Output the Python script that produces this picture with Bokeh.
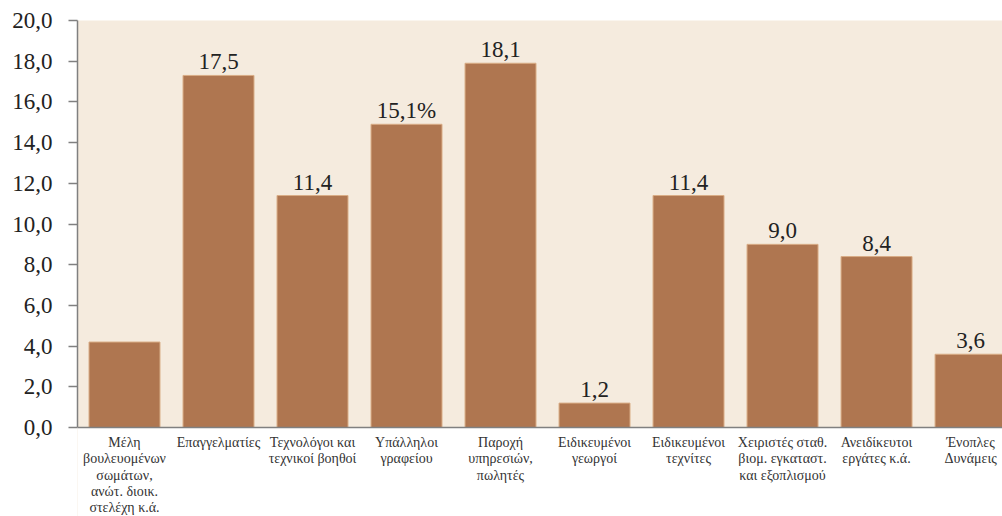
from bokeh.plotting import figure
from bokeh.models import Range1d, ColumnDataSource, LabelSet, FixedTicker, BoxAnnotation, Span
from bokeh.embed import file_html
from bokeh.resources import INLINE

categories = [
    "Μέλη\nβουλευομένων\nσωμάτων,\nανώτ. διοικ.\nστελέχη κ.ά.",
    "Επαγγελματίες",
    "Τεχνολόγοι και\nτεχνικοί βοηθοί",
    "Υπάλληλοι\nγραφείου",
    "Παροχή\nυπηρεσιών,\nπωλητές",
    "Ειδικευμένοι\nγεωργοί",
    "Ειδικευμένοι\nτεχνίτες",
    "Χειριστές σταθ.\nβιομ. εγκαταστ.\nκαι εξοπλισμού",
    "Ανειδίκευτοι\nεργάτες κ.ά.",
    "Ένοπλες\nΔυνάμεις",
]
values = [4.2, 17.3, 11.4, 14.9, 17.9, 1.2, 11.4, 9.0, 8.4, 3.6]
value_labels = ["", "17,5", "11,4", "15,1%", "18,1", "1,2", "11,4", "9,0", "8,4", "3,6"]
y_ticks = [0, 2, 4, 6, 8, 10, 12, 14, 16, 18, 20]
y_tick_labels = ["0,0", "2,0", "4,0", "6,0", "8,0", "10,0", "12,0", "14,0", "16,0", "18,0", "20,0"]

FONT = "Liberation Serif"
xs = [i + 0.5 for i in range(len(categories))]
src = ColumnDataSource(dict(x=xs, top=values, lab=value_labels))

# one row per label line so each line is centred under its bar
LINE_START = 15.0
LINE_STEP = 16.3
lx, ltext, loff, lbase = [], [], [], []
for xi, cat in zip(xs, categories):
    for k, line in enumerate(cat.split("\n")):
        lx.append(xi)
        ltext.append(line)
        loff.append(-(LINE_START + k * LINE_STEP))
        lbase.append(0)
cat_src = ColumnDataSource(dict(x=lx, y=lbase, text=ltext, off=loff))

# frame spans from y=20px to the bottom of the canvas; value 0 sits at y=427px
Y_MAX = 20
Y_MIN = -Y_MAX * 89 / 407

p = figure(width=1002, height=516, output_backend="svg", toolbar_location=None,
           x_range=Range1d(0, 9.84), y_range=Range1d(Y_MIN, Y_MAX),
           min_border_left=77, min_border_right=0, min_border_top=20, min_border_bottom=0)
p.background_fill_color = "#F5EBDE"
p.border_fill_color = "white"
p.outline_line_color = None
p.grid.visible = False

# white area below the value axis (labels zone)
p.add_layout(BoxAnnotation(top=0, fill_color="white", fill_alpha=1.0,
                           line_color=None, level="underlay"))

p.vbar(x="x", top="top", width=0.755, bottom=0, source=src,
       fill_color="#AF7650", line_color="#D9AD86", line_width=1)

p.add_layout(Span(location=0, dimension="width", line_color="#808080", line_width=1.5))

labels = LabelSet(x="x", y="top", text="lab", source=src, y_offset=6,
                  text_align="center", text_baseline="alphabetic",
                  text_font=FONT, text_font_size="23px", text_color="#222222")
p.add_layout(labels)

cat_labels = LabelSet(x="x", y="y", text="text", source=cat_src, y_offset="off",
                      text_align="center", text_baseline="middle",
                      text_font=FONT, text_font_size="14px", text_color="#333333")
p.add_layout(cat_labels)

p.yaxis.bounds = (0, Y_MAX)
p.yaxis.ticker = FixedTicker(ticks=y_ticks)
p.yaxis.major_label_overrides = {t: l for t, l in zip(y_ticks, y_tick_labels)}
p.yaxis.major_label_text_font = FONT
p.yaxis.major_label_text_font_size = "23px"
p.yaxis.major_label_text_color = "#222222"
p.yaxis.axis_line_color = "#808080"
p.yaxis.axis_line_width = 1.5
p.yaxis.major_tick_line_color = "#808080"
p.yaxis.major_tick_line_width = 1.5
p.yaxis.major_tick_out = 9
p.yaxis.major_tick_in = 0
p.yaxis.minor_tick_line_color = None
p.yaxis.major_label_standoff = 16

p.xaxis.visible = False

open("out.html", "w").write(file_html(p, INLINE))
